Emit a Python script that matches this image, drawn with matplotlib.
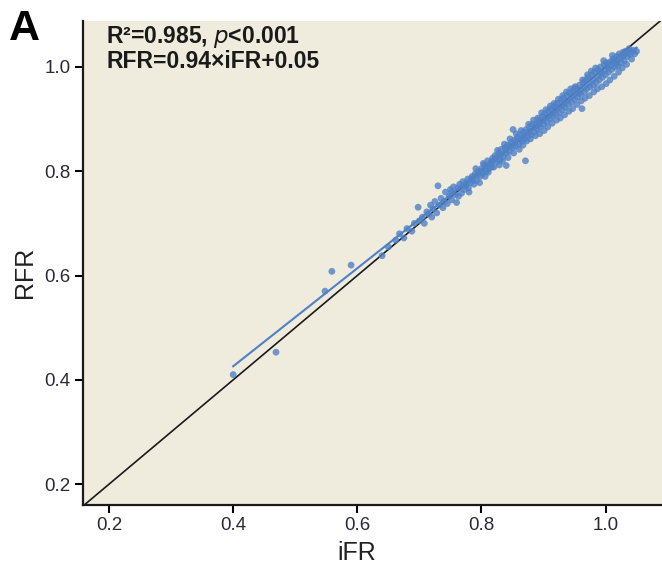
import numpy as np
import matplotlib
matplotlib.use('Agg')
from matplotlib import pyplot as plt

# iFR / RFR pairs
ifr = [0.400, 0.469, 0.548, 0.559, 0.590, 0.640, 0.650, 0.662, 0.668, 0.675,
       0.680, 0.688, 0.692, 0.698, 0.700, 0.705, 0.708, 0.712, 0.715, 0.718,
       0.720, 0.722, 0.725, 0.728, 0.730, 0.732, 0.735, 0.738, 0.740, 0.742,
       0.745, 0.748, 0.750, 0.752, 0.755, 0.758, 0.760, 0.762, 0.765, 0.768,
       0.770, 0.772, 0.775, 0.778, 0.780, 0.782, 0.785, 0.788, 0.790, 0.792,
       0.795, 0.798, 0.800, 0.802, 0.805, 0.808, 0.810, 0.812, 0.815, 0.818,
       0.820, 0.822, 0.825, 0.828, 0.830, 0.832, 0.835, 0.838, 0.840, 0.840,
       0.842, 0.845, 0.848, 0.850, 0.851, 0.853, 0.855, 0.858, 0.860, 0.862,
       0.865, 0.868, 0.870, 0.871, 0.872, 0.875, 0.878, 0.880, 0.882, 0.885,
       0.888, 0.890, 0.892, 0.895, 0.898, 0.900, 0.902, 0.905, 0.908, 0.910,
       0.912, 0.915, 0.918, 0.920, 0.922, 0.925, 0.928, 0.930, 0.932, 0.935,
       0.938, 0.940, 0.942, 0.945, 0.948, 0.950, 0.952, 0.955, 0.958, 0.960,
       0.962, 0.964, 0.966, 0.968, 0.970, 0.972, 0.975, 0.978, 0.980, 0.982,
       0.985, 0.988, 0.990, 0.992, 0.995, 0.998, 1.000, 1.002, 1.005, 1.008,
       1.010, 1.012, 1.015, 1.018, 1.020, 1.022, 1.025, 1.028, 1.030, 1.032,
       1.035, 1.038, 1.040, 1.045, 1.050,
       0.752, 0.763, 0.771, 0.779, 0.786, 0.791, 0.797, 0.803, 0.806, 0.811,
       0.817, 0.821, 0.826, 0.829, 0.834, 0.837, 0.843, 0.846, 0.852, 0.856,
       0.861, 0.864, 0.867, 0.873, 0.876, 0.879, 0.884, 0.887, 0.891, 0.894,
       0.897, 0.901, 0.904, 0.907, 0.911, 0.914, 0.917, 0.921, 0.924, 0.927,
       0.931, 0.934, 0.937, 0.941, 0.944, 0.947, 0.951, 0.954, 0.957, 0.961,
       0.963, 0.967, 0.971, 0.974, 0.977, 0.981, 0.984, 0.987, 0.991, 0.994,
       0.997, 1.001, 1.004, 1.007, 1.011, 1.014, 1.017, 1.021, 1.024, 1.027,
       1.031, 1.034, 1.037, 1.042, 1.047,
       0.776, 0.784, 0.793, 0.801, 0.809, 0.816, 0.824, 0.831, 0.839, 0.847,
       0.854, 0.863, 0.869, 0.877, 0.886, 0.893, 0.899, 0.906, 0.913, 0.919,
       0.926, 0.933, 0.939, 0.946, 0.953, 0.959, 0.965, 0.973, 0.979, 0.986,
       0.993, 0.999, 1.006, 1.013, 1.019, 1.026, 1.033, 1.039]
rfr = [0.410, 0.453, 0.570, 0.608, 0.620, 0.638, 0.655, 0.668, 0.680, 0.672,
       0.690, 0.685, 0.700, 0.731, 0.705, 0.712, 0.700, 0.722, 0.718, 0.735,
       0.712, 0.728, 0.742, 0.720, 0.772, 0.735, 0.748, 0.730, 0.742, 0.760,
       0.738, 0.752, 0.765, 0.745, 0.770, 0.755, 0.740, 0.768, 0.775, 0.758,
       0.780, 0.765, 0.772, 0.785, 0.760, 0.778, 0.790, 0.775, 0.795, 0.782,
       0.800, 0.790, 0.805, 0.795, 0.812, 0.800, 0.820, 0.805, 0.815, 0.825,
       0.808, 0.830, 0.818, 0.835, 0.822, 0.842, 0.828, 0.845, 0.811, 0.835,
       0.850, 0.838, 0.855, 0.845, 0.880, 0.860, 0.848, 0.865, 0.852, 0.870,
       0.858, 0.875, 0.862, 0.820, 0.880, 0.868, 0.885, 0.870, 0.890, 0.875,
       0.892, 0.880, 0.898, 0.885, 0.905, 0.890, 0.910, 0.895, 0.915, 0.900,
       0.920, 0.905, 0.925, 0.910, 0.930, 0.912, 0.935, 0.918, 0.940, 0.922,
       0.945, 0.928, 0.950, 0.932, 0.955, 0.938, 0.960, 0.942, 0.965, 0.948,
       0.920, 0.970, 0.952, 0.975, 0.958, 0.980, 0.962, 0.985, 0.965, 0.990,
       0.970, 0.995, 0.975, 1.000, 0.980, 1.005, 0.985, 1.008, 0.990, 1.010,
       0.995, 1.015, 1.000, 1.020, 1.002, 1.025, 1.008, 1.028, 1.012, 1.030,
       1.020, 1.035, 1.025, 1.032, 1.030,
       0.760, 0.752, 0.772, 0.768, 0.782, 0.805, 0.778, 0.815, 0.790, 0.798,
       0.808, 0.822, 0.840, 0.812, 0.820, 0.852, 0.826, 0.862, 0.835, 0.872,
       0.842, 0.878, 0.850, 0.858, 0.890, 0.862, 0.898, 0.868, 0.902, 0.872,
       0.912, 0.878, 0.918, 0.885, 0.925, 0.892, 0.930, 0.898, 0.938, 0.902,
       0.945, 0.908, 0.952, 0.915, 0.958, 0.920, 0.962, 0.928, 0.950, 0.935,
       0.975, 0.940, 0.985, 0.945, 0.992, 0.952, 0.998, 0.958, 0.990, 0.962,
       1.012, 0.968, 1.000, 0.975, 1.022, 0.982, 1.008, 0.990, 1.018, 0.998,
       1.025, 1.005, 1.028, 1.015, 1.025,
       0.778, 0.786, 0.792, 0.800, 0.810, 0.818, 0.826, 0.832, 0.840, 0.848,
       0.854, 0.862, 0.868, 0.876, 0.884, 0.890, 0.898, 0.904, 0.910, 0.918,
       0.924, 0.930, 0.936, 0.944, 0.950, 0.956, 0.962, 0.970, 0.976, 0.982,
       0.990, 0.995, 1.002, 1.008, 1.012, 1.020, 1.026, 1.030]

# regression reported on the panel
slope = 0.94
intercept = 0.05
fit_range = [0.40, 1.05]

xlim = (0.158, 1.091)
ylim = (0.160, 1.088)

font = ['Liberation Sans', 'DejaVu Sans']
blue = '#4f81c7'

fig = plt.figure(figsize=(6.62, 5.73), dpi=100)
ax = fig.add_axes([0.1254, 0.1187, 0.8746, 0.8446])
ax.set_facecolor('#efecdd')

# line of identity
lo = min(xlim[0], ylim[0])
ax.plot([lo, 1.2], [lo, 1.2], color='#1a1a1a', lw=1.2, zorder=2)

# data points
ax.scatter(ifr, rfr, s=24, color=blue, edgecolors='none', alpha=0.8, zorder=3)

# fit line
fx = np.array(fit_range)
ax.plot(fx, slope * fx + intercept, color=blue, lw=1.5, zorder=4)

ax.set_xlim(xlim)
ax.set_ylim(ylim)
ax.set_xticks([0.2, 0.4, 0.6, 0.8, 1.0])
ax.set_yticks([0.2, 0.4, 0.6, 0.8, 1.0])
ax.set_xticklabels(['0.2', '0.4', '0.6', '0.8', '1.0'])
ax.set_yticklabels(['0.2', '0.4', '0.6', '0.8', '1.0'])
for lab in ax.get_xticklabels() + ax.get_yticklabels():
    lab.set_family(font)
    lab.set_fontsize(13.5)
    lab.set_color('#2a2a3a')
ax.tick_params(axis='x', length=6, width=1.5, pad=3)
ax.tick_params(axis='y', length=6, width=1.5, pad=3)

for s in ['top', 'right']:
    ax.spines[s].set_visible(False)
for s in ['left', 'bottom']:
    ax.spines[s].set_linewidth(1.6)
    ax.spines[s].set_color('#1a1a1a')

ax.set_xlabel('iFR', family=font, fontsize=18, color='#222222')
ax.set_ylabel('RFR', family=font, fontsize=18, color='#222222')
ax.xaxis.set_label_coords(0.473, -0.075)
ax.yaxis.set_label_coords(-0.08, 0.481)

ax.text(0.04, 0.993, 'R²=0.985, $\\it{p}$<0.001\nRFR=0.94×iFR+0.05',
        transform=ax.transAxes, family=font, fontweight='bold', fontsize=16.5,
        va='top', ha='left', linespacing=0.98, color='#1a1a1a')

fig.text(0.014, 0.985, 'A', family=font, fontweight='bold', fontsize=31,
         va='top', ha='left', color='black')

fig.savefig('out.png', dpi=100)
